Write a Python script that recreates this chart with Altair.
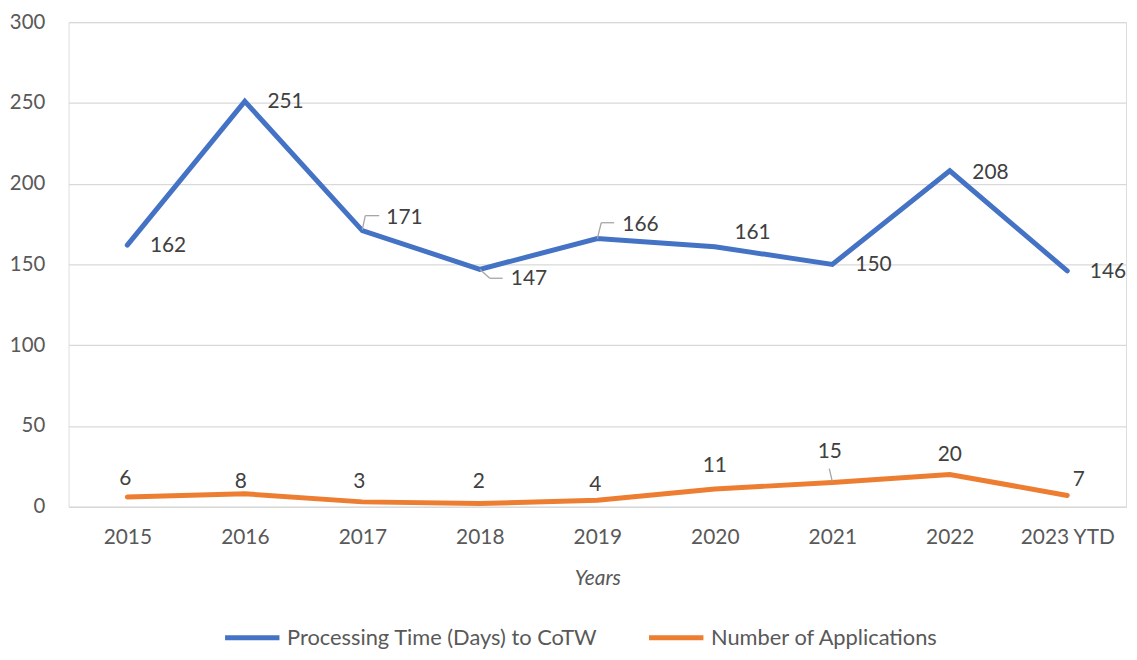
import altair as alt
import pandas as pd

years = ["2015", "2016", "2017", "2018", "2019", "2020", "2021", "2022", "2023 YTD"]
processing_days = [162, 251, 171, 147, 166, 161, 150, 208, 146]
applications = [6, 8, 3, 2, 4, 11, 15, 20, 7]
series_names = ["Processing Time (Days) to CoTW", "Number of Applications"]
series_colors = ["#4472C4", "#ED7D31"]

# label placement offsets (pixels, relative to each point)
proc_dx = [41, 41, 42.5, 49.5, 43.5, 38, 41.5, 41, 41]
proc_dy = [1, 1, -13, 10, -14, -14, 1, 2, 1]
app_dx = [-2, -4, -3, -1, -2, 0, -2.5, 0, 11.5]
app_dy = [-18, -11.5, -19.5, -22, -15, -23, -30.5, -20, -16]

rows = []
for i, yr in enumerate(years):
    rows.append({"Year": yr, "Series": series_names[0], "Value": processing_days[i]})
for i, yr in enumerate(years):
    rows.append({"Year": yr, "Series": series_names[1], "Value": applications[i]})
df = pd.DataFrame(rows)

FONT = "Lato"
TXT = "#595959"
FS = 21

xscale = alt.Scale(type="point", padding=0.5)

x_enc = alt.X("Year:O", sort=years, scale=xscale,
              axis=alt.Axis(title="Years", labelAngle=0, labelFontSize=FS, labelColor=TXT,
                            labelFont=FONT, ticks=False, tickSize=0, domain=False,
                            labelPadding=31, labelBaseline="middle",
                            titleFontSize=FS, titleFontStyle="italic", titleFontWeight="normal",
                            titleColor=TXT, titleFont=FONT, titlePadding=20))
y_enc = alt.Y("Value:Q", scale=alt.Scale(domain=[0, 300]),
              axis=alt.Axis(title=None, values=[0, 50, 100, 150, 200, 250, 300],
                            labelFontSize=20.5, labelColor=TXT, labelFont=FONT, ticks=False,
                            tickSize=0, domain=False, labelPadding=24,
                            gridColor="#D9D9D9", gridWidth=1.3))
color_enc = alt.Color("Series:N", sort=series_names,
                      scale=alt.Scale(domain=series_names, range=series_colors),
                      legend=alt.Legend(title=None, orient="none", legendX=155, legendY=590,
                                        direction="horizontal", symbolType="stroke",
                                        symbolStrokeWidth=5, symbolSize=3000,
                                        labelFontSize=22, labelColor=TXT, labelFont=FONT,
                                        labelLimit=600, labelOffset=5, columnPadding=41))

lines = alt.Chart(df).mark_line(strokeWidth=5, strokeCap="round", strokeJoin="miter").encode(
    x=x_enc, y=y_enc, color=color_enc, detail="Series:N")

pos_x = alt.X("Year:O", sort=years, scale=xscale)
pos_y = alt.Y("Value:Q")

label_layers = []
for s, (dxs, dys) in enumerate([(proc_dx, proc_dy), (app_dx, app_dy)]):
    for i, yr in enumerate(years):
        sub = df[(df["Series"] == series_names[s]) & (df["Year"] == yr)]
        label_layers.append(
            alt.Chart(sub).mark_text(fontSize=FS, font=FONT, color="#404040", align="center",
                                     baseline="middle", dx=dxs[i], dy=dys[i]).encode(
                x=pos_x, y=pos_y, text="Value:Q"))

# leader lines: (series index, year index, [(x1,y1,x2,y2) pixel offsets])
leaders = [
    (0, 2, [(0, -1, 3, -15), (3, -15, 17, -15)]),
    (0, 3, [(0, 0, 10, 9), (10, 9, 23, 9)]),
    (0, 4, [(0, 0, 4, -16), (4, -16, 17, -16)]),
    (1, 6, [(0, -1, -3, -14)]),
]
leader_layers = []
for s, yi, segs in leaders:
    sub = df[(df["Series"] == series_names[s]) & (df["Year"] == years[yi])]
    for (x1, y1, x2, y2) in segs:
        leader_layers.append(
            alt.Chart(sub).mark_rule(color="#A6A6A6", strokeWidth=1.3,
                                     xOffset=x1, yOffset=y1, x2Offset=x2, y2Offset=y2).encode(
                x=pos_x, y=pos_y, x2=alt.X2("Year:O"), y2=alt.Y2("Value:Q")))

chart = alt.layer(lines, *leader_layers, *label_layers).properties(
    width=1065, height=488,
    autosize=alt.AutoSizeParams(type="none"),
    padding={"left": 61, "top": 12, "right": 3, "bottom": 144},
).configure_view(stroke=None).configure(font=FONT)

chart.save("out.html", embed_options={"renderer": "svg", "actions": False})
